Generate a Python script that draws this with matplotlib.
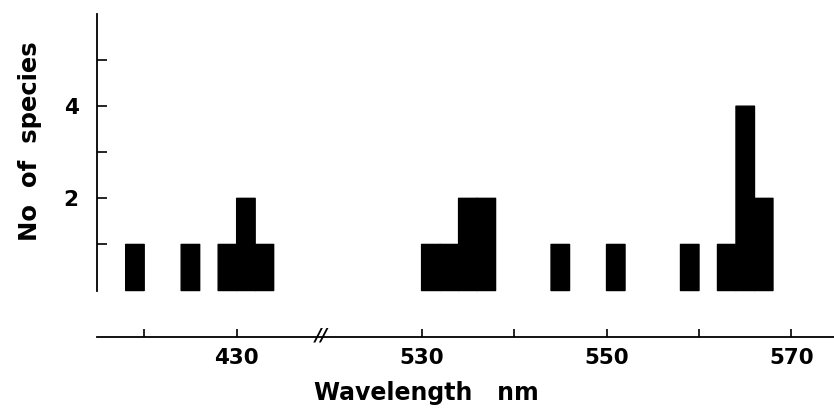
import matplotlib
matplotlib.use("Agg")
import matplotlib.pyplot as plt

# ---- data ----
bin_left_nm = [418, 424, 428, 430, 432, 530, 532, 534, 536, 544, 550, 558, 562, 564, 566]
counts      = [1,   1,   1,   2,   1,   1,   1,   2,   2,   1,   1,   1,   1,   4,   2]
bin_width_nm = 2
x_tick_nm = [420, 430, 530, 540, 550, 560, 570]
x_tick_labels = ["", "430", "530", "", "550", "", "570"]
y_ticks = [1, 2, 3, 4, 5]
y_tick_labels = ["", "2", "", "4", ""]
x_label = "Wavelength   nm"
y_label = "No  of  species"

# broken axis: values above the break are shifted left by this gap
BREAK_AT = 480
GAP = 80


def to_axis(v):
    return v if v < BREAK_AT else v - GAP


plt.rcParams['font.family'] = ['DejaVu Sans']

fig = plt.figure(figsize=(8.34, 4.12), dpi=100)
ax = fig.add_axes([0.1159, 0.183, 0.8841, 0.783])

xs = [to_axis(v) for v in bin_left_nm]
ax.bar(xs, counts, width=bin_width_nm, align='edge', color='black',
       edgecolor='black', linewidth=1.0, joinstyle='round', snap=False)

ax.set_xlim(414.86, 494.6)
ax.set_ylim(-1, 6)

for s in ['top', 'right']:
    ax.spines[s].set_visible(False)
ax.spines['left'].set_bounds(0, 6)
ax.spines['left'].set_linewidth(1.3)
ax.spines['bottom'].set_linewidth(1.3)

ax.set_xticks([to_axis(v) for v in x_tick_nm])
ax.set_xticklabels(x_tick_labels)
ax.set_yticks(y_ticks)
ax.set_yticklabels(y_tick_labels)
ax.tick_params(axis='x', direction='in', length=6, width=1.2, pad=8,
               labelsize=15.5)
ax.tick_params(axis='y', direction='in', length=7, width=1.2, pad=13,
               labelsize=15.5)
for lbl in ax.get_xticklabels() + ax.get_yticklabels():
    lbl.set_fontweight('bold')

# break mark on the x axis
ax.text(439.2, -0.97, "//", ha='center', va='center', fontsize=13,
        fontweight='bold', style='italic', transform=ax.transData)

fig.text(426 / 834, 1 - 393 / 412, x_label, ha='center', va='center',
         fontsize=17, fontweight='bold')
fig.text(30 / 834, 1 - 141 / 412, y_label, ha='center', va='center',
         rotation=90, fontsize=17.5, fontweight='bold')

fig.savefig("out.png", dpi=100, facecolor='white')
